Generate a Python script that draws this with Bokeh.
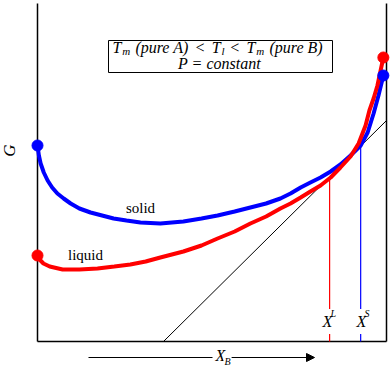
import math
from bokeh.plotting import figure
from bokeh.models import Label, BoxAnnotation, Arrow, NormalHead, Range1d
from bokeh.embed import file_html
from bokeh.resources import INLINE

# ---- data (X_B mole fraction, G in arbitrary units) ----
solid_x = [0.000, 0.004, 0.009, 0.018, 0.029, 0.042, 0.057, 0.075, 0.095, 0.120,
           0.152, 0.185, 0.218, 0.255, 0.295, 0.352, 0.418, 0.470, 0.516, 0.565,
           0.610, 0.655, 0.696, 0.725, 0.754, 0.782, 0.811, 0.840, 0.868, 0.897,
           0.926, 0.946, 0.963, 0.977, 0.991]
solid_g = [1.96, 1.86, 1.78, 1.69, 1.61, 1.54, 1.48, 1.43, 1.38, 1.33,
           1.29, 1.26, 1.23, 1.21, 1.19, 1.18, 1.20, 1.23, 1.26, 1.30,
           1.34, 1.38, 1.43, 1.48, 1.54, 1.59, 1.64, 1.70, 1.77, 1.86,
           1.96, 2.09, 2.28, 2.46, 2.66]
liquid_x = [0.000, 0.006, 0.017, 0.035, 0.072, 0.120, 0.172, 0.220, 0.266, 0.310,
            0.352, 0.418, 0.470, 0.516, 0.565, 0.610, 0.655, 0.696, 0.725, 0.754,
            0.782, 0.811, 0.840, 0.868, 0.897, 0.920, 0.940, 0.951, 0.963, 0.974,
            0.991]
liquid_g = [0.86, 0.82, 0.78, 0.75, 0.72, 0.72, 0.73, 0.75, 0.77, 0.80,
            0.84, 0.90, 0.96, 1.03, 1.10, 1.18, 1.25, 1.33, 1.38, 1.44,
            1.50, 1.56, 1.64, 1.74, 1.85, 1.98, 2.16, 2.31, 2.43, 2.56,
            2.84]
tangent_x = [0.361, 1.0]
tangent_g = [0.0, 2.21]
xl, xs = 0.837, 0.926          # X^L and X^S compositions
xl_g, xs_g = 1.645, 1.95       # G of the tangent at those compositions
frame_top = 3.38

# ---- layout helpers (pixel -> data) ----
W, H = 390, 368
X0, XSPAN = 37, 349
Y0, YSC = 341, 100.0
def PX(px): return (px - X0) / XSPAN
def PY(py): return (Y0 - py) / YSC

SERIF = "Liberation Serif"

p = figure(width=W, height=H, output_backend="svg", toolbar_location=None,
           x_range=Range1d(PX(0), PX(W)), y_range=Range1d(PY(H), PY(0)),
           min_border=0, min_border_left=0, min_border_right=0,
           min_border_top=0, min_border_bottom=0)
p.xaxis.visible = False
p.yaxis.visible = False
p.xgrid.visible = False
p.ygrid.visible = False
p.outline_line_color = None
p.background_fill_color = "white"
p.border_fill_color = "white"

# frame
p.line([0, 0], [0, frame_top], color="black", line_width=1.5)
p.line([1, 1], [0, frame_top], color="black", line_width=1.5)
p.line([0, 1], [0, 0], color="black", line_width=1.5)

# tangent
p.line(tangent_x, tangent_g, color="black", line_width=1)

# composition verticals
p.line([xl, xl], [0, xl_g], color="red", line_width=1.2)
p.line([xs, xs], [0, xs_g], color="blue", line_width=1.2)

# curves
p.line(solid_x, solid_g, color="blue", line_width=4)
p.line(liquid_x, liquid_g, color="red", line_width=4)
p.scatter([solid_x[0], solid_x[-1]], [solid_g[0], solid_g[-1]], size=11, color="blue")
p.scatter([liquid_x[0], liquid_x[-1]], [liquid_g[0], liquid_g[-1]], size=11, color="red")

def lab(x, y, text, size=15, style="italic", align="left", baseline="middle",
        bg=None, angle=0.0, pad=0):
    kw = dict(x=x, y=y, text=text, text_font=SERIF, text_font_size=f"{size}px",
              text_font_style=style, text_align=align, text_baseline=baseline,
              text_color="black", angle=angle)
    if bg:
        kw.update(background_fill_color=bg, background_fill_alpha=1.0, padding=pad)
    p.add_layout(Label(**kw))

# curve labels
lab(PX(140), PY(207), "solid", size=15, style="normal", align="center")
lab(PX(85), PY(254), "liquid", size=15, style="normal", align="center")

# G axis label
lab(PX(9), PY(150), "G", size=17, align="center", angle=math.pi / 2)

# X^L and X^S
lab(PX(318), PY(321), "X", size=16, align="left", bg="white", pad=4)
lab(PX(330), PY(313), "L", size=10, align="left")
lab(PX(352), PY(321), "X", size=16, align="left", bg="white", pad=4)
lab(PX(364), PY(313), "S", size=10, align="left")

# X_B arrow
p.add_layout(Arrow(x_start=PX(88), y_start=PY(357), x_end=PX(314), y_end=PY(357),
                   line_color="black", line_width=1,
                   end=NormalHead(size=8, fill_color="black", line_color="black")))
lab(PX(212), PY(355), "X", size=16, align="left", bg="white", pad=3)
lab(PX(223), PY(361), "B", size=10, align="left", bg="white", pad=1)

# condition box
p.add_layout(BoxAnnotation(left=PX(108), right=PX(332), top=PY(40), bottom=PY(72),
                           fill_color="white", fill_alpha=1.0,
                           line_color="black", line_alpha=1.0, line_width=1))
# line 1 pieces: (text, size, style, dy, gap_after)
pieces = [("T", 16, "italic", 0, 0), ("m", 11, "italic", 3, 4), ("(pure A)", 16, "italic", 0, 1),
          ("<", 16, "normal", 0, 4), ("T", 16, "italic", 0, 0), ("l", 11, "italic", 3, 5),
          ("<", 16, "normal", 0, 4), ("T", 16, "italic", 0, 0), ("m", 11, "italic", 3, 4),
          ("(pure B)", 16, "italic", 0, 0)]
em = {"T": 0.556, "m": 0.722, " ": 0.25, "(": 0.333, "p": 0.5, "u": 0.5, "r": 0.389,
      "e": 0.444, "A": 0.611, ")": 0.333, "<": 0.675, "l": 0.278, "B": 0.611}
widths = [sum(em.get(c, 0.5) for c in t) * s + g for t, s, _, _, g in pieces]
scale = 216.0 / sum(widths)
cx = 112.0
for (t, s, st, dy, g), w in zip(pieces, widths):
    lab(PX(cx), PY(47 + dy), t, size=s, style=st)
    cx += w * scale
lab(PX(219), PY(63), "P = constant", size=16, align="center")

open("out.html", "w").write(file_html(p, INLINE))
